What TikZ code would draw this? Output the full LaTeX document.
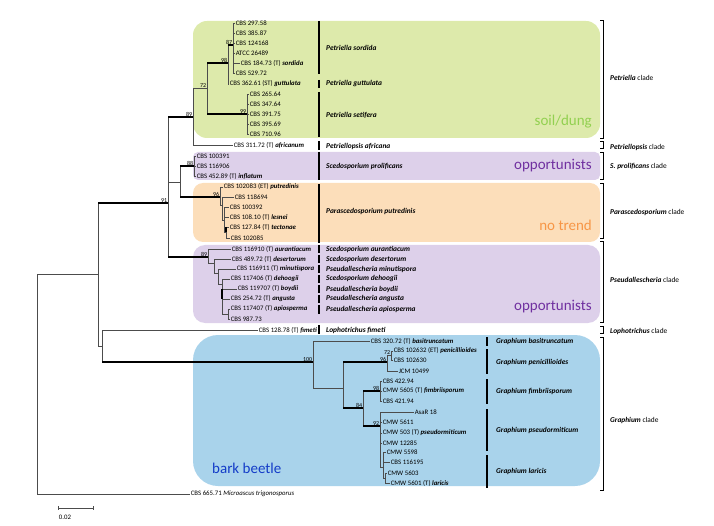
\documentclass[tikz,border=0pt]{standalone}
\usepackage{fontspec}
\setmainfont{Carlito}

\definecolor{soilbg}{RGB}{221,234,171}
\definecolor{soilfg}{RGB}{146,208,80}
\definecolor{oppbg}{RGB}{221,208,234}
\definecolor{oppfg}{RGB}{112,48,160}
\definecolor{nonebg}{RGB}{252,222,186}
\definecolor{nonefg}{RGB}{247,150,70}
\definecolor{barkbg}{RGB}{169,211,235}
\definecolor{barkfg}{RGB}{20,60,200}

\newcommand{\epi}[1]{\textbf{\textit{#1}}}

\tikzset{
  leaf/.style={anchor=west, inner sep=0.6pt, font=\fontsize{6.8}{7}\selectfont},
  spname/.style={anchor=west, inner sep=0pt, font=\fontsize{7.4}{8}\selectfont\bfseries\itshape},
  cladelab/.style={anchor=west, inner sep=0pt, font=\fontsize{7.4}{8}\selectfont},
  branch/.style={black!70, line width=0.5pt},
  supp/.style={black, line width=1.8pt},
  bval/.style={anchor=south east, inner sep=0.6pt, font=\fontsize{6}{6}\selectfont},
  spbar/.style={line width=1.4pt},
  bracket/.style={line width=0.9pt},
  habitat/.style={inner sep=0pt, font=\fontsize{15}{16}\selectfont},
}

\begin{document}
\begin{tikzpicture}[x=1pt,y=-1pt]
        \useasboundingbox (0,0) rectangle (714,526);

        % habitat boxes
        \fill[soilbg, rounded corners=14pt] (193,21) rectangle (600,138);
        \fill[oppbg, rounded corners=5pt] (193,152) rectangle (600,180);
        \fill[nonebg, rounded corners=10pt] (193,183) rectangle (600,242);
        \fill[oppbg, rounded corners=12pt] (193,245) rectangle (600,323);
        \fill[barkbg, rounded corners=25pt] (193,335) rectangle (600,486);
        \node[habitat, text=soilfg, anchor=east] (hsoil) at (592,122) {soil/dung};
        \node[habitat, text=oppfg, anchor=east] (hopp1) at (592,166) {opportunists};
        \node[habitat, text=nonefg, anchor=east] (hnone) at (592,225) {no trend};
        \node[habitat, text=oppfg, anchor=east] (hopp2) at (592,307) {opportunists};
        \node[habitat, text=barkfg, anchor=west] (hbark) at (212,468) {bark beetle};

        % tips, Petriella
        \node[leaf] (p1) at (235,23) {CBS 297.58};
        \node[leaf] (p2) at (235,33) {CBS 385.87};
        \node[leaf] (p3) at (235,43) {CBS 124168};
        \node[leaf] (p4) at (235,53) {ATCC 26489};
        \node[leaf] (p5) at (240,63) {CBS 184.73 (T) \epi{sordida}};
        \node[leaf] (p6) at (235,73) {CBS 529.72};
        \node[leaf] (p7) at (229,84) {CBS 362.61 (ST) \epi{guttulata}};
        \node[leaf] (p8) at (249,94) {CBS 265.64};
        \node[leaf] (p9) at (249,104) {CBS 347.64};
        \node[leaf] (p10) at (249,114) {CBS 391.75};
        \node[leaf] (p11) at (249,124) {CBS 395.69};
        \node[leaf] (p12) at (249,134) {CBS 710.96};
        \node[leaf] (p13) at (233,145) {CBS 311.72 (T) \epi{africanum}};

        % tips, Scedosporium prolificans and Parascedosporium
        \node[leaf] (s1) at (196,156) {CBS 100391};
        \node[leaf] (s2) at (196,166) {CBS 116906};
        \node[leaf] (s3) at (196,176) {CBS 452.89 (T) \epi{inflatum}};
        \node[leaf] (q1) at (223,187) {CBS 102083 (ET) \epi{putredinis}};
        \node[leaf] (q2) at (234,197) {CBS 118694};
        \node[leaf] (q3) at (229,207) {CBS 100392};
        \node[leaf] (q4) at (229,217) {CBS 108.10 (T) \epi{lesnei}};
        \node[leaf] (q5) at (229,227) {CBS 127.84 (T) \epi{tectonae}};
        \node[leaf] (q6) at (230,238) {CBS 102085};

        % tips, Pseudallescheria
        \node[leaf] (r1) at (231,249) {CBS 116910 (T) \epi{aurantiacum}};
        \node[leaf] (r2) at (231,259) {CBS 489.72 (T) \epi{desertorum}};
        \node[leaf] (r3) at (236,269) {CBS 116911 (T) \epi{minutispora}};
        \node[leaf] (r4) at (230,279) {CBS 117406 (T) \epi{dehoogii}};
        \node[leaf] (r5) at (237,289) {CBS 119707 (T) \epi{boydii}};
        \node[leaf] (r6) at (230,299) {CBS 254.72 (T) \epi{angusta}};
        \node[leaf] (r7) at (230,309) {CBS 117407 (T) \epi{apiosperma}};
        \node[leaf] (r8) at (230,319) {CBS 987.73};

        % tips, Lophotrichus and outgroup
        \node[leaf] (l1) at (258,330) {CBS 128.78 (T) \epi{fimeti}};
        \node[leaf] (o1) at (190,494) {CBS 665.71 \textit{Microascus trigonosporus}};

        % tips, Graphium
        \node[leaf] (g1) at (370,341) {CBS 320.72 (T) \epi{basitruncatum}};
        \node[leaf] (g2) at (393,351) {CBS 102632 (ET) \epi{penicillioides}};
        \node[leaf] (g3) at (393,360) {CBS 102630};
        \node[leaf] (g4) at (398,371) {JCM 10499};
        \node[leaf] (g5) at (382,381) {CBS 422.94};
        \node[leaf] (g6) at (382,391) {CMW 5605 (T) \epi{fimbriisporum}};
        \node[leaf] (g7) at (382,401) {CBS 421.94};
        \node[leaf] (g8) at (414,412) {AsaR 18};
        \node[leaf] (g9) at (382,422) {CMW 5611};
        \node[leaf] (g10) at (382,433) {CMW 503 (T) \epi{pseudormiticum}};
        \node[leaf] (g11) at (382,443) {CMW 12285};
        \node[leaf] (g12) at (386,452) {CMW 5598};
        \node[leaf] (g13) at (390,462) {CBS 116195};
        \node[leaf] (g14) at (387,473) {CMW 5603};
        \node[leaf] (g15) at (390,483) {CMW 5601 (T) \epi{laricis}};

        % internal nodes
        \coordinate (n87) at (233,45);
        \coordinate (n98) at (228,63);
        \coordinate (n99) at (247,114);
        \coordinate (n72) at (207,88);
        \coordinate (n89) at (193,117);
        \coordinate (n88) at (194,166);
        \coordinate (n96) at (220,197);
        \coordinate (q96a) at (222,205);
        \coordinate (q96b) at (224,220);
        \coordinate (q96c) at (226,232);
        \coordinate (nsp) at (180,182);
        \coordinate (r89) at (208,257);
        \coordinate (rb) at (214,263);
        \coordinate (rc) at (218,273);
        \coordinate (rd) at (222,284);
        \coordinate (rg) at (228,314);
        \coordinate (n91) at (168,203);
        \coordinate (nup) at (98,274);
        \coordinate (nlg) at (102,346);
        \coordinate (root) at (37,384);
        \coordinate (n100) at (313,362);
        \coordinate (n2) at (343,388);
        \coordinate (n96g) at (387,362);
        \coordinate (n72g) at (391,355);
        \coordinate (n84) at (363,408);
        \coordinate (n98g) at (380,391);
        \coordinate (n92) at (380,426);
        \coordinate (nl) at (383,467);
        \coordinate (nm) at (385,478);

        % Petriella clade
        \foreach \c in {p1,p2,p3,p4,p5,p6} \draw[branch] (n87) |- (\c.west);
        \draw[branch] (n98) |- (p7.west);
        \draw[branch] (n98) -- (n98 |- n87);
        \draw[supp] (n98 |- n87) -- (n87);
        \foreach \c in {p8,p9,p10,p11,p12} \draw[branch] (n99) |- (\c.west);
        \draw[branch] (n72 |- n98) -- (n72 |- n99);
        \draw[supp] (n72 |- n98) -- (n98);
        \draw[supp] (n72 |- n99) -- (n99);
        \draw[branch] (n89) |- (n72);
        \draw[branch] (n89) |- (p13.west);

        % S. prolificans and Parascedosporium
        \foreach \c in {s1,s2,s3} \draw[branch] (n88) |- (\c.west);
        \draw[branch] (n96) |- (q1.west);
        \draw[branch] (n96) |- (q96a);
        \draw[branch] (q96a) |- (q2.west);
        \draw[branch] (q96a) |- (q96b);
        \draw[branch] (q96b) |- (q3.west);
        \draw[branch] (q96b) |- (q4.west);
        \draw[branch] (q96b) |- (q96c);
        \draw[branch] (q96c) |- (q5.west);
        \draw[branch] (q96c) |- (q6.west);
        \draw[line width=1.2pt] (q96c |- q5.west) -- (q96c);
        \draw[branch] (nsp |- n88) -- (nsp |- n96);
        \draw[supp] (nsp |- n88) -- (n88);
        \draw[supp] (nsp |- n96) -- (n96);

        % Pseudallescheria clade
        \draw[branch] (r89) |- (r1.west);
        \draw[branch] (r89) |- (rb);
        \draw[branch] (rb) |- (r2.west);
        \draw[branch] (rb) |- (rc);
        \draw[branch] (rc) |- (r3.west);
        \draw[branch] (rc) |- (rd);
        \foreach \c in {r4,r5,r6} \draw[branch] (rd) |- (\c.west);
        \draw[branch] (rd) |- (rg);
        \draw[line width=1.2pt] (rd |- r5.west) -- (rd |- r6.west);
        \draw[branch] (rg) |- (r7.west);
        \draw[branch] (rg) |- (r8.west);

        % backbone
        \draw[branch] (n91 |- n89) -- (n91 |- r89);
        \draw[supp] (n91 |- n89) -- (n89);
        \draw[branch] (n91 |- nsp) -- (nsp);
        \draw[supp] (n91 |- r89) -- (r89);
        \draw[branch] (nup |- n91) -- (nup |- nlg);
        \draw[supp] (nup |- n91) -- (n91);
        \draw[branch] (nup |- nlg) -- (nlg);
        \draw[branch] (nlg) |- (l1.west);
        \draw[branch] (nlg) -- (nlg |- n100);
        \draw[supp] (nlg |- n100) -- (n100);
        \draw[branch] (root) |- (nup);
        \draw[branch] (root) |- (o1.west);

        % Graphium clade
        \draw[branch] (n100) |- (g1.west);
        \draw[branch] (n100) |- (n2);
        \draw[branch] (n2 |- n96g) -- (n2 |- n84);
        \draw[supp] (n2 |- n96g) -- (n96g);
        \draw[supp] (n2 |- n84) -- (n84);
        \draw[branch] (n96g) |- (n72g);
        \draw[branch] (n96g) |- (g4.west);
        \draw[branch] (n72g) |- (g2.west);
        \draw[branch] (n72g) |- (g3.west);
        \draw[branch] (n84 |- n98g) -- (n84 |- n92);
        \draw[supp] (n84 |- n98g) -- (n98g);
        \draw[supp] (n84 |- n92) -- (n92);
        \foreach \c in {g5,g6,g7} \draw[branch] (n98g) |- (\c.west);
        \foreach \c in {g8,g9,g10,g11} \draw[branch] (n92) |- (\c.west);
        \draw[branch] (n92) |- (nl);
        \draw[branch] (nl) |- (g12.west);
        \draw[branch] (nl) |- (g13.west);
        \draw[branch] (nl) |- (nm);
        \draw[branch] (nm) |- (g14.west);
        \draw[branch] (nm) |- (g15.west);

        % bootstrap values
        \node[bval] (b87) at (n87) {87};
        \node[bval] (b98) at (n98) {98};
        \node[bval] (b99) at (n99) {99};
        \node[bval] (b72) at (n72) {72};
        \node[bval] (b89) at (n89) {89};
        \node[bval] (b88) at (n88) {88};
        \node[bval] (b96) at (n96) {96};
        \node[bval] (b91) at (n91) {91};
        \node[bval] (b89b) at (r89) {89};
        \node[bval] (b100) at (n100) {100};
        \node[bval] (b72g) at (n72g) {72};
        \node[bval] (b96g) at (n96g) {96};
        \node[bval] (b98g) at (n98g) {98};
        \node[bval] (b84) at (n84) {84};
        \node[bval] (b92) at (n92) {92};

        % species bars and names
        \draw[spbar] (319,21) -- (319,74);   \node[spname] (sp1) at (326,48) {Petriella sordida};
        \draw[spbar] (319,80) -- (319,88);   \node[spname] (sp2) at (326,84) {Petriella guttulata};
        \draw[spbar] (319,92) -- (319,137);  \node[spname] (sp3) at (326,115) {Petriella setifera};
        \draw[spbar] (319,141) -- (319,150); \node[spname] (sp4) at (326,146) {Petriellopsis africana};
        \draw[spbar] (319,152) -- (319,180); \node[spname] (sp5) at (326,166) {Scedosporium prolificans};
        \draw[spbar] (319,184) -- (319,243); \node[spname] (sp6) at (326,211) {Parascedosporium putredinis};
        \draw[spbar] (319,245) -- (319,253); \node[spname] (sp7) at (326,249) {Scedosporium aurantiacum};
        \draw[spbar] (319,255) -- (319,263); \node[spname] (sp8) at (326,259) {Scedosporium desertorum};
        \draw[spbar] (319,265) -- (319,273); \node[spname] (sp9) at (326,269) {Pseudallescheria minutispora};
        \draw[spbar] (319,275) -- (319,283); \node[spname] (sp10) at (326,279) {Scedosporium dehoogii};
        \draw[spbar] (319,285) -- (319,293); \node[spname] (sp11) at (326,289) {Pseudallescheria boydii};
        \draw[spbar] (319,295) -- (319,303); \node[spname] (sp12) at (326,299) {Pseudallescheria angusta};
        \draw[spbar] (319,305) -- (319,314); \node[spname] (sp13) at (326,309) {Pseudallescheria apiosperma};
        \draw[spbar] (319,325) -- (319,334); \node[spname] (sp14) at (326,330) {Lophotrichus fimeti};
        \draw[spbar] (487,337) -- (487,346); \node[spname] (sp15) at (496,341) {Graphium basitruncatum};
        \draw[spbar] (487,349) -- (487,374); \node[spname] (sp16) at (496,362) {Graphium penicillioides};
        \draw[spbar] (487,379) -- (487,404); \node[spname] (sp17) at (496,391) {Graphium fimbriisporum};
        \draw[spbar] (487,409) -- (487,451); \node[spname] (sp18) at (496,430) {Graphium pseudormiticum};
        \draw[spbar] (487,455) -- (487,488); \node[spname] (sp19) at (496,471) {Graphium laricis};

        % clade brackets
        \draw[bracket] (600,20) -| (603,138) -- (600,138);  \node[cladelab] (c1) at (610,78) {\epi{Petriella} clade};
        \draw[bracket] (600,141) -| (603,148) -- (600,148); \node[cladelab] (c2) at (610,147) {\epi{Petriellopsis} clade};
        \draw[bracket] (600,152) -| (603,179) -- (600,179); \node[cladelab] (c3) at (610,166) {\epi{S. prolificans} clade};
        \draw[bracket] (600,183) -| (603,238) -- (600,238); \node[cladelab] (c4) at (610,212) {\epi{Parascedosporium} clade};
        \draw[bracket] (600,241) -| (603,322) -- (600,322); \node[cladelab] (c5) at (610,280) {\epi{Pseudallescheria} clade};
        \draw[bracket] (600,326) -| (603,333) -- (600,333); \node[cladelab] (c6) at (610,331) {\epi{Lophotrichus} clade};
        \draw[bracket] (600,337) -| (603,490) -- (600,490); \node[cladelab] (c7) at (610,420) {\epi{Graphium} clade};

        % scale bar
        \draw[branch] (58,506) -- (58,510);
        \draw[branch] (93,506) -- (93,510);
        \draw[branch] (58,508) -- (93,508);
        \node[leaf, anchor=center] (scale) at (65,517) {0.02};
      \end{tikzpicture}
\end{document}
